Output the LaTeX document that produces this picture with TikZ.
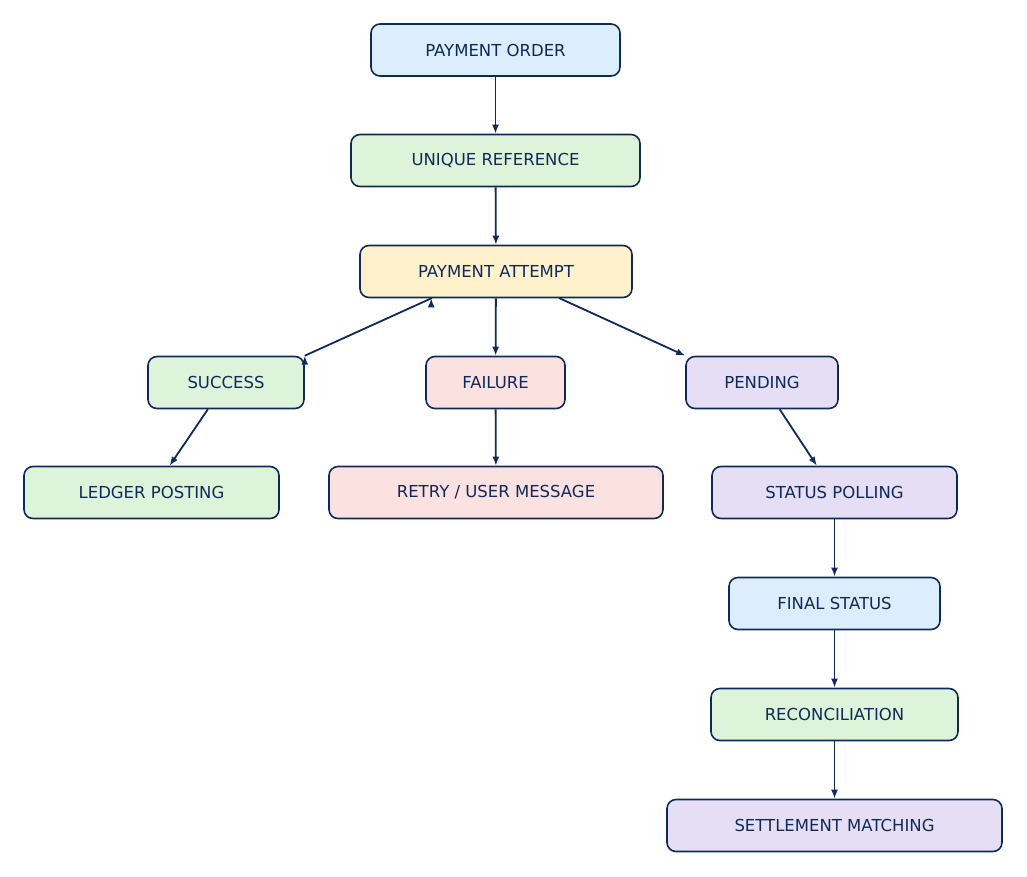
\documentclass[tikz,border=0pt]{standalone}
\usepackage{fontspec}
\setmainfont{DejaVu Sans}
\usetikzlibrary{arrows.meta}
\definecolor{navy}{HTML}{0F2A5A}
\definecolor{fb}{HTML}{DCEEFD}
\definecolor{fg}{HTML}{DEF4DA}
\definecolor{fy}{HTML}{FEF1CB}
\definecolor{fr}{HTML}{FBE2E1}
\definecolor{fp}{HTML}{E5DEF5}
\begin{document}
\begin{tikzpicture}[x=1pt,y=-1pt,
 box/.style={draw=navy,line width=1.6pt,rounded corners=9pt,minimum height=52pt,inner sep=0pt,text=navy,font=\fontsize{16.5}{18}\selectfont},
 arr/.style={draw=navy,line width=1.8pt,-{Latex[length=9pt,width=7pt]}}]
\useasboundingbox (0,0) rectangle (1027,876);
\node[box,fill=fb,minimum width=249pt] (po) at (495.5,50) {PAYMENT ORDER};
\node[box,fill=fg,minimum width=289pt] (ur) at (495.5,160.5) {UNIQUE REFERENCE};
\node[box,fill=fy,minimum width=272pt] (pa) at (496,271.5) {PAYMENT ATTEMPT};
\node[box,fill=fg,minimum width=156pt] (su) at (226,382.5) {SUCCESS};
\node[box,fill=fr,minimum width=139pt] (fa) at (495.5,382.5) {FAILURE};
\node[box,fill=fp,minimum width=152pt] (pe) at (762,382.5) {PENDING};
\node[box,fill=fg,minimum width=255pt] (lp) at (151.5,492.5) {LEDGER POSTING};
\node[box,fill=fr,minimum width=334pt] (re) at (496,492.5) {RETRY / USER MESSAGE};
\node[box,fill=fp,minimum width=245pt] (sp) at (834.5,492.5) {STATUS POLLING};
\node[box,fill=fb,minimum width=211pt] (fs) at (834.5,603.5) {FINAL STATUS};
\node[box,fill=fg,minimum width=247pt] (rc) at (834.5,714.5) {RECONCILIATION};
\node[box,fill=fp,minimum width=335pt] (sm) at (834.5,825.5) {SETTLEMENT MATCHING};
\draw[arr] (po) -- (ur);
\draw[arr] (ur) -- (pa);
\draw[arr] (pa.south west)++(72,0) coordinate (a1);
\draw[arr] (432,298) -- (su.north east) ++(0,0);
\draw[arr] (pa) -- (fa);
\draw[arr] (559,298) -- (pe.north west);
\draw[arr] (su) -- (lp);
\draw[arr] (fa) -- (re);
\draw[arr] (pe) -- (sp);
\draw[arr] (sp) -- (fs);
\draw[arr] (fs) -- (rc);
\draw[arr] (rc) -- (sm);
\end{tikzpicture}
\end{document}
